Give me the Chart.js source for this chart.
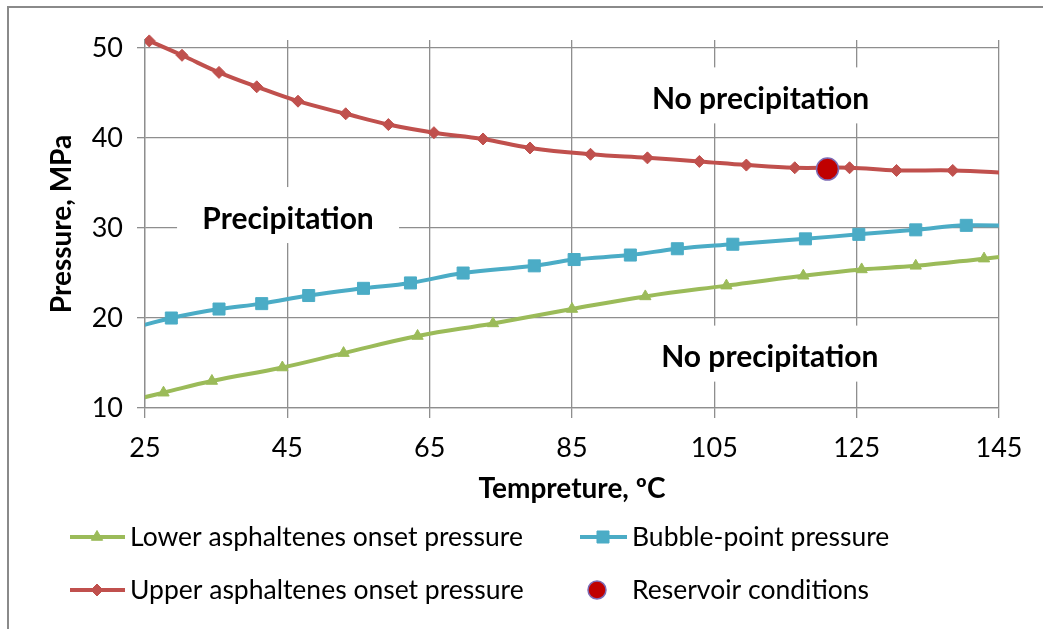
<!DOCTYPE html>
<html>
<head>
<meta charset="utf-8">
<script src="https://cdn.jsdelivr.net/npm/chart.js@4"></script>
<style>
  body { margin: 0; background: #fff; }
</style>
</head>
<body>
<canvas id="chart" width="1043" height="629"></canvas>
<script>
// axis ticks
const xTicks = [25, 45, 65, 85, 105, 125, 145];
const yTicks = [10, 20, 30, 40, 50];

// Lower asphaltenes onset pressure
const lowerTemp = [21, 27.6, 34.4, 44.3, 52.9, 63.3, 73.9, 85.0, 95.3, 106.7, 117.5, 125.7, 133.3, 142.9, 150];
const lowerP = [10.45, 11.7, 13.0, 14.5, 16.1, 18.0, 19.4, 21.0, 22.4, 23.6, 24.7, 25.4, 25.8, 26.6, 27.2];

// Bubble-point pressure
const bubbleTemp = [22, 28.7, 35.4, 41.4, 48.0, 55.7, 62.3, 69.7, 79.7, 85.3, 93.2, 99.8, 107.6, 117.8, 125.3, 133.3, 140.4, 148];
const bubbleP = [18.6, 20.0, 21.0, 21.6, 22.5, 23.3, 23.9, 25.0, 25.8, 26.5, 27.0, 27.7, 28.2, 28.8, 29.3, 29.8, 30.3, 30.2];

// Upper asphaltenes onset pressure
const upperTemp = [25.6, 30.2, 35.4, 40.7, 46.5, 53.2, 59.2, 65.6, 72.5, 79.1, 87.6, 95.6, 102.9, 109.5, 116.3, 124.0, 130.6, 138.5, 147];
const upperP = [50.8, 49.2, 47.3, 45.7, 44.1, 42.7, 41.5, 40.6, 39.9, 38.9, 38.2, 37.8, 37.4, 37.0, 36.7, 36.7, 36.4, 36.4, 36.1];

// Reservoir conditions
const resTemp = [120.9];
const resP = [36.55];

// region labels (text centre, in data units)
const notes = [
  { text: 'Precipitation', x: 45.1, y: 31.0, w: 222 },
  { text: 'No precipitation', x: 111.5, y: 44.3, w: 270 },
  { text: 'No precipitation', x: 112.8, y: 15.6, w: 270 }
];

const toPoints = (xs, ys) => xs.map((x, i) => ({ x: x, y: ys[i] }));

const GRID = '#8e8e8e';
const FONT = 'Lato';
const lineClip = { left: 0, top: 10, right: 0, bottom: 0 };

const datasets = [
  {
    label: 'Lower asphaltenes onset pressure',
    data: toPoints(lowerTemp, lowerP),
    borderColor: '#9BBB59', backgroundColor: '#9BBB59',
    pointStyle: 'triangle', pointRadius: 6.5, pointBorderWidth: 1,
    borderWidth: 4, tension: 0.4, clip: lineClip
  },
  {
    label: 'Bubble-point pressure',
    data: toPoints(bubbleTemp, bubbleP),
    borderColor: '#4BACC6', backgroundColor: '#4BACC6',
    pointStyle: 'rect', pointRadius: 8.5, pointBorderWidth: 1,
    borderWidth: 4, tension: 0.4, clip: lineClip
  },
  {
    label: 'Upper asphaltenes onset pressure',
    data: toPoints(upperTemp, upperP),
    borderColor: '#C0504D', backgroundColor: '#C0504D',
    pointStyle: 'rectRot', pointRadius: 6, pointBorderWidth: 1,
    borderWidth: 4, tension: 0.4, clip: lineClip
  },
  {
    label: 'Reservoir conditions',
    data: toPoints(resTemp, resP),
    showLine: false,
    borderColor: '#7D6BB5', backgroundColor: '#C00000',
    pointStyle: 'circle', pointRadius: 11, pointBorderWidth: 1.5,
    order: -1, clip: lineClip
  }
];

// frame lines on the top and left edge of the picture
const framePlugin = {
  id: 'frame',
  beforeDraw(chart) {
    const ctx = chart.ctx;
    ctx.save();
    ctx.fillStyle = '#fff';
    ctx.fillRect(0, 0, chart.width, chart.height);
    ctx.fillStyle = '#8a8a8a';
    ctx.fillRect(7, 6, chart.width - 7, 2);
    ctx.fillRect(7, 6, 2, chart.height - 6);
    ctx.restore();
  }
};

// white boxes with the region names
const notesPlugin = {
  id: 'notes',
  beforeDatasetsDraw(chart) {
    const ctx = chart.ctx;
    const xs = chart.scales.x, ys = chart.scales.y;
    ctx.save();
    notes.forEach(n => {
      const px = xs.getPixelForValue(n.x);
      const py = ys.getPixelForValue(n.y);
      ctx.fillStyle = '#fff';
      ctx.fillRect(px - n.w / 2, py - 32, n.w, 56);
      ctx.fillStyle = '#000';
      ctx.font = 'bold 30px ' + FONT;
      ctx.textAlign = 'center';
      ctx.textBaseline = 'middle';
      ctx.fillText(n.text, px, py);
    });
    ctx.restore();
  }
};

// legend with line + marker samples, two columns
const legendSpots = [
  { x1: 70, x2: 125, mx: 97, tx: 130, y: 537 },
  { x1: 580, x2: 627, mx: 603, tx: 632, y: 537 },
  { x1: 70, x2: 125, mx: 97, tx: 130, y: 590 },
  { x1: null, x2: null, mx: 597, tx: 632, y: 590 }
];

const legendPlugin = {
  id: 'sampleLegend',
  afterDraw(chart) {
    const ctx = chart.ctx;
    ctx.save();
    chart.data.datasets.forEach((ds, i) => {
      const s = legendSpots[i];
      if (s.x1 !== null) {
        ctx.strokeStyle = ds.borderColor;
        ctx.lineWidth = 4;
        ctx.beginPath();
        ctx.moveTo(s.x1, s.y);
        ctx.lineTo(s.x2, s.y);
        ctx.stroke();
      }
      ctx.fillStyle = ds.backgroundColor;
      ctx.strokeStyle = ds.borderColor;
      ctx.lineWidth = ds.pointBorderWidth;
      const r = ds.showLine === false ? 9 : ds.pointRadius;
      Chart.helpers.drawPoint(ctx, { pointStyle: ds.pointStyle, radius: r, borderWidth: ds.pointBorderWidth, rotation: 0 }, s.mx, s.y);
      ctx.fillStyle = '#000';
      ctx.font = '26.5px ' + FONT;
      ctx.textAlign = 'left';
      ctx.textBaseline = 'middle';
      ctx.fillText(ds.label, s.tx, s.y);
    });
    ctx.restore();
  }
};

new Chart(document.getElementById('chart'), {
  type: 'line',
  data: { datasets: datasets },
  options: {
    responsive: false,
    animation: false,
    devicePixelRatio: 1,
    layout: { padding: { top: 40, right: 44, bottom: 121, left: 0 } },
    plugins: {
      legend: { display: false },
      tooltip: { enabled: false }
    },
    scales: {
      x: {
        type: 'linear',
        min: 25,
        max: 145,
        afterBuildTicks: s => { s.ticks = xTicks.map(v => ({ value: v })); },
        afterFit: s => { s.height = 100; },
        grid: { color: GRID, lineWidth: 1.3, tickLength: 10 },
        border: { color: GRID, width: 1.3 },
        ticks: { color: '#000', font: { family: FONT, size: 27 }, padding: 14, maxRotation: 0 },
        title: {
          display: true,
          text: 'Tempreture, ºC',
          color: '#000',
          font: { family: FONT, size: 28, weight: 'bold' },
          padding: { top: 0, bottom: 2 }
        }
      },
      y: {
        min: 10,
        max: 50.9,
        afterBuildTicks: s => { s.ticks = yTicks.map(v => ({ value: v })); },
        afterFit: s => { s.width = 145; },
        grid: { color: GRID, lineWidth: 1.3, tickLength: 8 },
        border: { color: GRID, width: 1.3 },
        ticks: { color: '#000', font: { family: FONT, size: 27 }, padding: 14 },
        title: {
          display: true,
          text: 'Pressure, MPa',
          color: '#000',
          font: { family: FONT, size: 28, weight: 'bold' },
          padding: { top: 45, bottom: 0 }
        }
      }
    }
  },
  plugins: [framePlugin, notesPlugin, legendPlugin]
});
</script>
</body>
</html>
